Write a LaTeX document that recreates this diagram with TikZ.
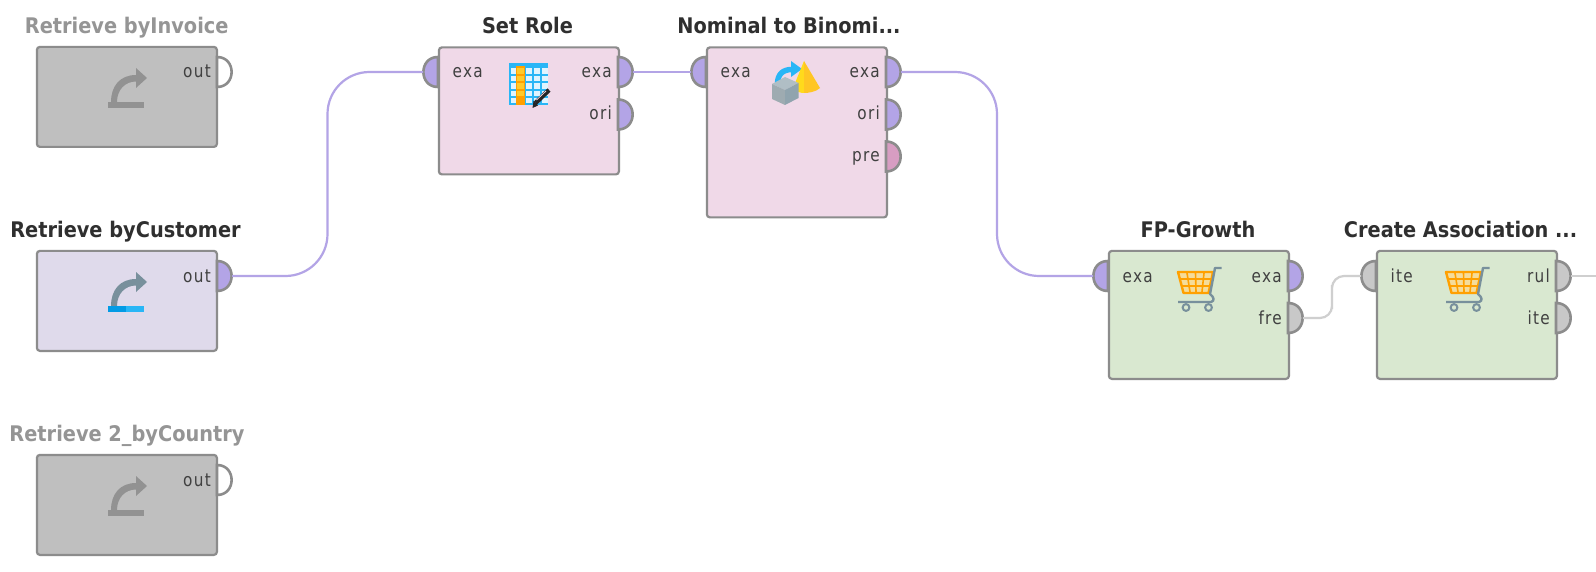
\documentclass[tikz,border=0pt]{standalone}
\usepackage{fontspec}
\usetikzlibrary{calc}
\setmainfont{DejaVu Sans}
\newfontfamily\titlefont[FakeStretch=0.9]{DejaVu Sans Bold}
\newfontfamily\portfont[FakeStretch=0.85,LetterSpace=7]{DejaVu Sans}
\definecolor{edgegrey}{HTML}{8C8C8C}
\definecolor{retgrey}{HTML}{929292}
\definecolor{pinkbox}{HTML}{F0D9E8}
\definecolor{greenbox}{HTML}{D9E8D0}
\definecolor{lavbox}{HTML}{DFDAEB}
\definecolor{greybox}{HTML}{BFBFBF}
\definecolor{purpleport}{HTML}{B3A4E6}
\definecolor{pinkport}{HTML}{D79DC2}
\definecolor{greyport}{HTML}{C8C8C8}
\definecolor{greyline}{HTML}{CFCFCF}
\definecolor{titledark}{HTML}{2F2F2F}
\definecolor{titlegrey}{HTML}{959595}
\definecolor{iconblue}{HTML}{29B6F6}
\definecolor{iconblued}{HTML}{039BE5}
\definecolor{iconorange}{HTML}{FFA000}
\definecolor{iconamber}{HTML}{FFCA28}
\definecolor{iconpale}{HTML}{F5DC9A}
\definecolor{iconslate}{HTML}{78909C}
\definecolor{iconcube}{HTML}{B0BEC5}
\definecolor{iconcubed}{HTML}{90A4AE}
\tikzset{
  opbox/.style={draw=edgegrey,line width=2.2pt,rounded corners=3pt,minimum width=180pt,anchor=north west,inner sep=0pt,xshift=-0.7pt,yshift=0.7pt},
  optitle/.style={font=\titlefont\fontsize{21.5}{26}\selectfont,text=titledark,anchor=base,inner sep=0pt},
  optitleoff/.style={optitle,text=titlegrey},
  portlabel/.style={font=\portfont\fontsize{18}{22}\selectfont,text=black!75,inner sep=0pt},
  portout/.style={portlabel,anchor=base east},
  portin/.style={portlabel,anchor=base west},
  wire/.style={line width=2.2pt,rounded corners=#1},
  wire/.default=30pt,
  portedge/.style={draw=edgegrey,line width=2.6pt}
}
% right-hand port: name, box edge x, centre y, fill
\newcommand{\outport}[4]{%
  \filldraw[portedge,fill=#4] (#2,#3-15) .. controls (#2+19.5,#3-15) and (#2+19.5,#3+15) .. (#2,#3+15) -- cycle;
  \coordinate (#1) at (#2+15,#3);}
% left-hand port
\newcommand{\inport}[4]{%
  \filldraw[portedge,fill=#4] (#2,#3-15) .. controls (#2-19.5,#3-15) and (#2-19.5,#3+15) .. (#2,#3+15) -- cycle;
  \coordinate (#1) at (#2-15,#3);}
% retrieve icon: top offset, colour of arrow, colours of bar
\newcommand{\retrieveicon}[4]{%
  \begin{scope}[shift={(0,#1)}]
    \fill[#2] (111,102) .. controls (111,86) and (120,75) .. (136,75) -- (136,68) -- (147,78) -- (136,88) -- (136,81.5) .. controls (125,81.5) and (117,90) .. (117,102) -- cycle;
    \fill[#3] (108,102) rectangle (126,108);
    \fill[#4] (126,102) rectangle (144,108);
  \end{scope}}
% cart icon
\newcommand{\carticon}[1]{%
  \begin{scope}[shift={(#1,0)}]
    \fill[iconpale] (1178,272) -- (1213,272) -- (1208,293) -- (1184,293) -- cycle;
    \draw[iconorange,line width=1.6pt] (1187,273) -- (1190,292) (1195.5,273) -- (1196,292) (1204,273) -- (1202,292) (1180,279) -- (1211,279) (1182,286) -- (1209,286);
    \draw[iconorange,line width=2.4pt,line join=round] (1178,272) -- (1213,272) -- (1208.5,293) -- (1183.5,293) -- cycle;
    \draw[iconslate,line width=2.4pt,line join=round] (1221.5,268) -- (1215,268) -- (1210,294) .. controls (1214,297) and (1215,301) .. (1211,302) -- (1178,302);
    \draw[iconslate,line width=2pt,fill=greenbox] (1186,307.5) circle[radius=3.4pt] (1208.5,307.5) circle[radius=3.4pt];
  \end{scope}}
\begin{document}
\begin{tikzpicture}[x=1pt,y=-1pt]
\useasboundingbox (0,0) rectangle (1596,572);
\fill[white] (0,0) rectangle (1596,572);

% operators
\node[opbox,fill=greybox,minimum height=100pt] (invoice) at (36.5,46.5) {};
\node[opbox,fill=lavbox,minimum height=100pt] (customer) at (36.5,250.5) {};
\node[opbox,fill=greybox,minimum height=100pt] (country) at (36.5,454.5) {};
\node[opbox,fill=pinkbox,minimum height=127pt] (setrole) at (438.5,47) {};
\node[opbox,fill=pinkbox,minimum height=170pt] (nominal) at (706.5,47) {};
\node[opbox,fill=greenbox,minimum height=128pt] (fpgrowth) at (1108.5,250.5) {};
\node[opbox,fill=greenbox,minimum height=128pt] (assoc) at (1376.5,250.5) {};

% titles
\node[optitleoff] (t1) at (126.7,33.5) {Retrieve byInvoice};
\node[optitle] (t2) at (125.5,237.5) {Retrieve byCustomer};
\node[optitleoff] (t3) at (127,441.5) {Retrieve 2\_byCountry};
\node[optitle] (t4) at (527.5,33.5) {Set Role};
\node[optitle] (t5) at (789,33.5) {Nominal to Binomi...};
\node[optitle] (t6) at (1198,237.5) {FP-Growth};
\node[optitle] (t7) at (1460.5,237.5) {Create Association ...};

% ports
\outport{invout}{217}{72}{white}
\outport{cusout}{217}{276}{purpleport}
\outport{couout}{217}{480}{white}
\inport{srin}{438}{72}{purpleport}
\outport{srexa}{618}{72}{purpleport}
\outport{srori}{618}{114.5}{purpleport}
\inport{nbin}{706}{72}{purpleport}
\outport{nbexa}{886}{72}{purpleport}
\outport{nbori}{886}{114.5}{purpleport}
\outport{nbpre}{886}{156.5}{pinkport}
\inport{fpin}{1108}{276}{purpleport}
\outport{fpexa}{1288}{276}{purpleport}
\outport{fpfre}{1288}{318}{greyport}
\inport{arin}{1376}{276}{greyport}
\outport{arrul}{1556}{276}{greyport}
\outport{arite}{1556}{318}{greyport}
\coordinate (rightend) at (1596,276);

% connectors
\draw[wire=42pt,purpleport] (cusout) -| ($(cusout)!.5!(srin)$) |- (srin);
\draw[wire,purpleport] (srexa) -- (nbin);
\draw[wire=42pt,purpleport] (nbexa) -| ($(nbexa)!.5!(fpin)$) |- (fpin);
\draw[wire=12pt,greyline] (fpfre) -| ($(fpfre)!.5!(arin)$) |- (arin);
\draw[wire,greyline] (arrul) -- (rightend);

% port labels
\node[portout] (l1) at (211,78) {out};
\node[portout] (l2) at (211,282) {out};
\node[portout] (l3) at (211,486) {out};
\node[portin] (l4) at (452.5,78) {exa};
\node[portout] (l5) at (612,78) {exa};
\node[portout] (l6) at (612,120) {ori};
\node[portin] (l7) at (720.5,78) {exa};
\node[portout] (l8) at (880,78) {exa};
\node[portout] (l9) at (880,120) {ori};
\node[portout] (l10) at (880,162) {pre};
\node[portin] (l11) at (1122.5,282) {exa};
\node[portout] (l12) at (1282,282) {exa};
\node[portout] (l13) at (1282,324) {fre};
\node[portin] (l14) at (1390.5,282) {ite};
\node[portout] (l15) at (1550,282) {rul};
\node[portout] (l16) at (1550,324) {ite};

% icons
\retrieveicon{0}{retgrey}{retgrey}{retgrey}
\retrieveicon{204}{iconslate}{iconblued}{iconblue}
\retrieveicon{408}{retgrey}{retgrey}{retgrey}

% set role icon
\fill[iconblue] (508.5,63.5) rectangle (547.5,105);
\foreach \c in {0,1,2,3,4}{\foreach \r in {0,1,2,3,4}{
  \fill[white!85!iconblue] (510.5+\c*7.9,68.5+\r*7.4) rectangle ++(5.9,5.4);}}
\fill[iconorange] (516,66) rectangle (525,105);
\foreach \r in {0,1,2,3}{\fill[iconamber] (517,68.5+\r*7.4) rectangle ++(7,5.4);}
\draw[black!85,line width=4.5pt] (535.5,103) -- (549,90);
\draw[pinkbox,line width=.8pt] (536.5,100) -- (546,91);
\fill[black!85] (532.5,108) -- (533.5,101) -- (538,105.5) -- cycle;

% nominal to binominal icon
\draw[iconblue,line width=5.5pt] (777.5,84) .. controls (777.5,74) and (783,69.5) .. (792,69.5);
\fill[iconblue] (791,61) -- (802,69) -- (791,77) -- cycle;
\fill[iconamber!70!yellow] (804,61) -- (793,88) .. controls (796,92) and (801,93) .. (804,93) -- cycle;
\fill[iconamber!90!iconorange] (804,61) -- (820,88) .. controls (816,92) and (808,93) .. (804,93) -- cycle;
\fill[iconcube] (772,84) -- (785,77) -- (798.5,83) -- (785,90) -- cycle;
\fill[iconcube!90!black] (772,84) -- (785,90) -- (785,105) -- (772,99) -- cycle;
\fill[iconcubed] (785,90) -- (798.5,83) -- (798.5,98) -- (785,105) -- cycle;

% cart icons
\carticon{0}
\carticon{268}
\end{tikzpicture}
\end{document}
